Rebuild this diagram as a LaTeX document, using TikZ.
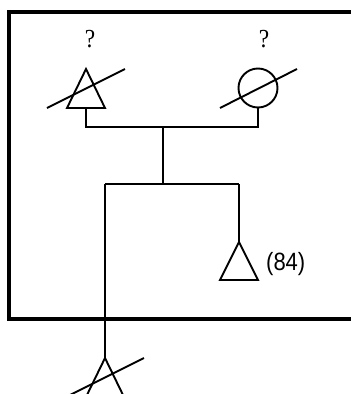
\documentclass[tikz,border=0pt]{standalone}
\usepackage{fontspec}
\setmainfont{Liberation Serif}
\newfontfamily\labelsans{Liberation Sans}
\begin{document}
\begin{tikzpicture}[x=1pt,y=-1pt,
  thin line/.style={line width=1.9pt,line join=miter},
  frame line/.style={line width=4pt,line join=miter},
  qmark/.style={anchor=base,inner sep=0pt,xscale=0.9,font=\fontsize{26}{26}\selectfont},
  numlabel/.style={anchor=base west,inner sep=0pt,xscale=0.88,font=\labelsans\fontsize{25}{25}\selectfont},
  female/.style={circle,draw,line width=1.9pt,minimum size=39pt,inner sep=0pt}]
\useasboundingbox (0,0) rectangle (351,394);
% frame (open on the right)
\draw[frame line] (352,11.5) -- (9.3,11.5) -- (9.3,318.5) -- (352,318.5);
% parents
\coordinate (t1apex) at (86,69);
\coordinate (t1base) at (86,108);
\draw[thin line] (t1apex) -- (67,108) -- (105,108) -- cycle;
\draw[thin line] (47,108) -- (125,69);
\node[female] (mother) at (258,88) {};
\draw[thin line] (220,108) -- (297,69);
\node[qmark] (q1) at (90,47) {?};
\node[qmark] (q2) at (264,47) {?};
% marriage line
\coordinate (marr) at (163,127);
\coordinate (sib) at (163,184);
\draw[thin line] (t1base) |- (marr) -| (mother.south);
\draw[thin line] (marr) -- (sib);
\coordinate (sibL) at (105,184);
\coordinate (sibR) at (239,184);
\draw[thin line] (sibL) -- (sibR);
\draw[line width=2.8pt] (124,184) -- (143,184);
% right child
\coordinate (t2apex) at (239,242);
\draw[thin line] (sibR) -- (t2apex);
\draw[thin line] (t2apex) -- (220,280) -- (258,280) -- cycle;
\node[numlabel] (age) at (266,270) {(84)};
% left child (deceased)
\coordinate (t3apex) at (105,358);
\draw[thin line] (sibL) -- (t3apex);
\draw[thin line] (t3apex) -- (86,397) -- (124,397) -- cycle;
\draw[thin line] (66,397) -- (144,358);
\end{tikzpicture}
\end{document}
